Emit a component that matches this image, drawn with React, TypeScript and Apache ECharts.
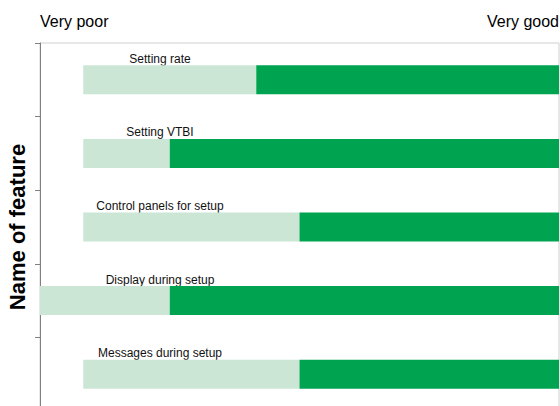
import React, { useEffect, useRef } from "react";
import * as echarts from "echarts";

const categories = [
  "Setting rate",
  "Setting VTBI",
  "Control panels for setup",
  "Display during setup",
  "Messages during setup",
];
const scaleLabels = ["Very poor", "Very good"];
const scaleMax = 12;
const barStart = [1, 1, 1, 0, 1];
const lightEnd = [5, 3, 6, 3, 6];
const darkEnd = [12, 12, 12, 12, 12];

export default function App() {
  const ref = useRef<HTMLDivElement>(null);
  useEffect(() => {
    if (!ref.current) return;
    const chart = echarts.init(ref.current, null, { renderer: "svg" });
    const font = "Liberation Sans, Arial, sans-serif";
    const lightVals = lightEnd.map((v, i) => v - barStart[i]);
    const darkVals = darkEnd.map((v, i) => v - lightEnd[i]);
    chart.setOption({
      animation: false,
      backgroundColor: "#ffffff",
      grid: {
        left: 40,
        right: 1,
        top: 43,
        bottom: -5,
        containLabel: false,
        outerBoundsMode: "none",
        show: true,
        borderColor: "#cfcfcf",
        borderWidth: 1,
      },
      xAxis: {
        type: "value",
        position: "top",
        min: 0,
        max: scaleMax,
        interval: scaleMax,
        axisLine: { show: false },
        axisTick: { show: false },
        splitLine: { show: false },
        axisLabel: {
          show: true,
          fontSize: 16,
          fontFamily: font,
          color: "#000",
          margin: 14,
          alignMinLabel: "left",
          alignMaxLabel: "right",
          formatter: (v: number) => (v === 0 ? scaleLabels[0] : v === scaleMax ? scaleLabels[1] : ""),
        },
      },
      yAxis: {
        type: "category",
        inverse: true,
        data: categories,
        name: "Name of feature",
        nameLocation: "middle",
        nameRotate: 90,
        nameGap: 12,
        nameTextStyle: { fontSize: 22, fontWeight: "bold", fontFamily: font, color: "#000" },
        axisLine: { show: true, lineStyle: { color: "#808080", width: 1 } },
        axisTick: { show: true, length: 5, inside: false, lineStyle: { color: "#808080" } },
        axisLabel: {
          inside: true,
          margin: 120,
          align: "center",
          verticalAlign: "bottom",
          padding: [0, 0, 15, 0],
          fontSize: 12,
          fontFamily: font,
          color: "#111",
        },
        splitLine: { show: false },
      },
      series: [
        {
          type: "bar",
          stack: "s",
          data: barStart,
          barWidth: 29,
          itemStyle: { color: "transparent" },
          silent: true,
        },
        {
          type: "bar",
          stack: "s",
          data: lightVals,
          barWidth: 29,
          itemStyle: { color: "#CCE6D6" },
          silent: true,
        },
        {
          type: "bar",
          stack: "s",
          data: darkVals,
          barWidth: 29,
          itemStyle: { color: "#00A350" },
          silent: true,
        },
      ],
    });
    return () => chart.dispose();
  }, []);
  return (
    <div
      ref={ref}
      style={{ position: "fixed", left: 0, top: 0, width: 560, height: 406, background: "#fff" }}
    />
  );
}
